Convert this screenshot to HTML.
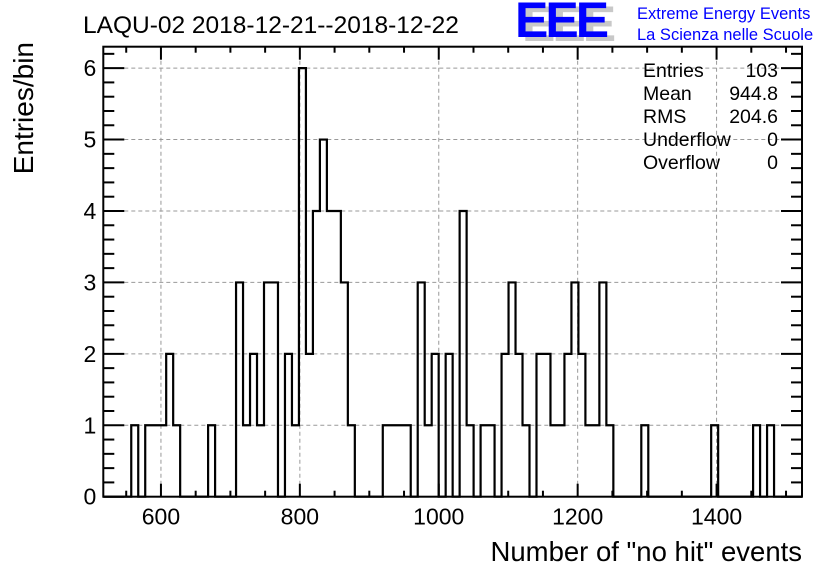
<!DOCTYPE html>
<html><head><meta charset="utf-8"><style>
html,body{margin:0;padding:0;background:#fff;}
svg{display:block;font-family:"Liberation Sans",sans-serif;}
</style></head><body>
<svg id="chart" width="836" height="572" viewBox="0 0 836 572">
<rect width="836" height="572" fill="#fff"/>
<g id="grid"></g>
<path id="hist" fill="none" stroke="#000" stroke-width="2.2"/>
<g id="axes"></g>
<text x="83" y="33" font-size="24.5">LAQU-02 2018-12-21--2018-12-22</text>
<g>
<text x="522" y="41" font-size="50" font-weight="bold" fill="#c8c8c8" letter-spacing="-3">EEE</text>
<text x="515" y="37" font-size="50" font-weight="bold" fill="#0000ff" letter-spacing="-3">EEE</text>
<text x="637" y="19" font-size="16.5" fill="#0000ff">Extreme Energy Events</text>
<text x="637" y="40" font-size="16.5" fill="#0000ff">La Scienza nelle Scuole</text>
</g>
<g font-size="19.5">
<text x="643" y="77">Entries</text><text x="778" y="77" text-anchor="end">103</text>
<text x="643" y="100">Mean</text><text x="778" y="100" text-anchor="end">944.8</text>
<text x="643" y="123">RMS</text><text x="778" y="123" text-anchor="end">204.6</text>
<text x="643" y="146">Underflow</text><text x="778" y="146" text-anchor="end">0</text>
<text x="643" y="169">Overflow</text><text x="778" y="169" text-anchor="end">0</text>
</g>
<text x="802" y="561" font-size="27.5" text-anchor="end">Number of "no hit" events</text>
<text transform="translate(33,42) rotate(-90)" font-size="28" text-anchor="end">Entries/bin</text>
</svg>
<script>
const xMin = 517, xMax = 1523, nBins = 100;
const yMax = 6.3;
const binCounts = [0,0,0,0,1,0,1,1,1,2,1,0,0,0,0,1,0,0,0,3,1,2,1,3,3,0,2,1,6,2,4,5,4,4,3,1,0,0,0,0,1,1,1,1,0,3,1,2,0,2,0,4,1,0,1,1,0,2,3,2,1,0,2,2,1,1,2,3,2,1,1,3,1,0,0,0,0,1,0,0,0,0,0,0,0,0,0,1,0,0,0,0,0,1,0,1,0,0,0,0];
const xTickLabels = [600,800,1000,1200,1400];
const yTickLabels = [0,1,2,3,4,5,6];
const PL=103.3, PR=802, PT=46.7, PB=496.7;
const sx = v => PL + (v - xMin) / (xMax - xMin) * (PR - PL);
const sy = v => PB - v / yMax * (PB - PT);
const NS="http://www.w3.org/2000/svg";
function mk(tag, attrs, parent){const e=document.createElementNS(NS,tag);for(const k in attrs)e.setAttribute(k,attrs[k]);parent.appendChild(e);return e;}
const grid=document.getElementById('grid'), axes=document.getElementById('axes');
xTickLabels.forEach(v=>{
  const l=mk('line',{x1:sx(v),x2:sx(v),y1:PT,y2:PB,stroke:'#999','stroke-dasharray':'4,3','stroke-width':1},grid);
  
  
});
yTickLabels.forEach(v=>{
  if(v===0) return;
  const l=mk('line',{x1:PL,x2:PR,y1:sy(v),y2:sy(v),stroke:'#999','stroke-dasharray':'4,3','stroke-width':1},grid);
  
  
});
const bw=(xMax-xMin)/nBins;
let d='M'+sx(xMin)+','+sy(0);
binCounts.forEach((c,i)=>{
  const x0=sx(xMin+i*bw), x1=sx(xMin+(i+1)*bw);
  d+=' L'+x0+','+sy(c)+' L'+x1+','+sy(c);
});
d+=' L'+sx(xMax)+','+sy(0);
document.getElementById('hist').setAttribute('d',d);
const fr=mk('rect',{x:PL,y:PT,width:PR-PL,height:PB-PT,fill:'none',stroke:'#000','stroke-width':2},axes);


for(let v=550;v<=1500;v+=50){
  const major=v%200===0;
  const len=major?13:6;
  const t=mk('line',{x1:sx(v),x2:sx(v),y1:PB,y2:PB-len,stroke:'#000','stroke-width':2},axes);
  
  
  const t2=mk('line',{x1:sx(v),x2:sx(v),y1:PT,y2:PT+len,stroke:'#000','stroke-width':2},axes);
  
  
}
xTickLabels.forEach(v=>{
  const t=mk('text',{x:sx(v),y:PB+28,'font-size':23,'text-anchor':'middle'},axes);
  t.textContent=v;
  
  
});
for(let k=0;k<=31;k++){
  const v=k*0.2; const major=k%5===0; const len=major?21:11;
  const t=mk('line',{x1:PL,x2:PL+len,y1:sy(v),y2:sy(v),stroke:'#000','stroke-width':2},axes);
  
  
  const t2=mk('line',{x1:PR,x2:PR-len,y1:sy(v),y2:sy(v),stroke:'#000','stroke-width':2},axes);
  
  
}
yTickLabels.forEach(v=>{
  const t=mk('text',{x:PL-7,y:sy(v)+8,'font-size':23,'text-anchor':'end'},axes);
  t.textContent=v;
  
  
});
</script>
</body></html>
